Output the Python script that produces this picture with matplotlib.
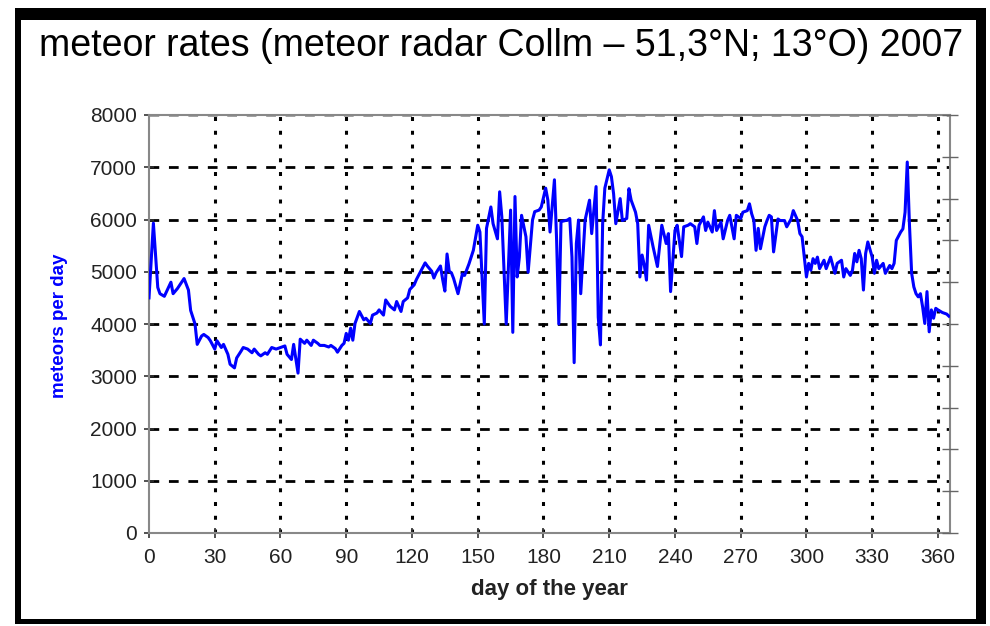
import numpy as np
import matplotlib
matplotlib.use("Agg")
import matplotlib.pyplot as plt
from matplotlib.patches import Rectangle

# daily meteor counts (day of year, meteors per day)
days = [0, 2, 4, 5, 7, 10, 11, 13, 16, 18, 19, 21, 22, 24, 25, 27, 28, 30, 31, 33,
        34, 36, 37, 39, 40, 42, 43, 45, 47, 48, 50, 51, 53, 54, 56, 58, 60, 62, 63, 65,
        66, 68, 69, 71, 72, 74, 75, 77, 78, 80, 82, 83, 85, 86, 88, 89, 90, 91, 92, 93,
        94, 96, 98, 99, 101, 102, 104, 105, 107, 108, 110, 112, 113, 115, 116, 118, 119, 121, 122, 124,
        126, 127, 129, 130, 131, 133, 134, 135, 136, 137, 138, 139, 141, 143, 144, 146, 148, 150, 151, 153,
        154, 156, 157, 159, 160, 161, 163, 164, 165, 166, 167, 168, 169, 170, 172, 173, 175, 176, 178, 179,
        181, 182, 183, 185, 186, 187, 188, 191, 192, 193, 194, 195, 196, 197, 199, 201, 202, 204, 205, 206,
        207, 208, 210, 211, 212, 213, 215, 216, 218, 219, 220, 222, 223, 224, 225, 226, 227, 228, 230, 232,
        234, 236, 237, 238, 240, 241, 243, 244, 246, 247, 249, 250, 251, 253, 254, 255, 257, 258, 259, 261,
        262, 264, 265, 267, 268, 270, 271, 273, 274, 275, 276, 277, 278, 279, 281, 282, 283, 284, 285, 287,
        288, 290, 291, 293, 294, 296, 297, 298, 299, 300, 301, 302, 303, 304, 305, 306, 308, 309, 311, 313,
        314, 316, 317, 318, 320, 321, 322, 323, 324, 325, 326, 327, 328, 330, 331, 332, 333, 335, 336, 338,
        339, 340, 341, 343, 344, 345, 346, 347, 348, 349, 350, 351, 352, 353, 354, 355, 356, 357, 358, 359,
        360, 362, 364, 365]
meteors = [4500, 5930, 4700, 4580, 4530, 4800, 4580, 4680, 4870, 4650, 4260, 4000, 3610, 3770, 3800, 3740, 3680, 3520, 3680, 3550,
           3610, 3420, 3230, 3160, 3350, 3480, 3550, 3520, 3450, 3520, 3420, 3390, 3450, 3420, 3550, 3520, 3550, 3580, 3420, 3320,
           3610, 3060, 3710, 3630, 3690, 3590, 3690, 3630, 3590, 3590, 3560, 3590, 3530, 3460, 3590, 3630, 3820, 3690, 3920, 3690,
           4010, 4240, 4080, 4110, 4010, 4170, 4210, 4270, 4170, 4460, 4340, 4270, 4430, 4240, 4430, 4500, 4660, 4750, 4850, 5010,
           5170, 5110, 5010, 4880, 4980, 5110, 4850, 4630, 5340, 5010, 4980, 4870, 4580, 4960, 4930, 5150, 5410, 5890, 5760, 4000,
           5830, 6240, 5920, 5630, 6530, 6050, 4000, 5090, 6180, 3840, 6440, 4900, 5280, 6080, 5670, 4990, 5990, 6150, 6180, 6240,
           6600, 6370, 5760, 6760, 5600, 4000, 5960, 5990, 6020, 5280, 3260, 5540, 5990, 4580, 5990, 6370, 5730, 6630, 4130, 3600,
           5920, 6600, 6950, 6820, 6490, 5920, 6400, 5980, 6020, 6590, 6370, 6140, 5920, 4900, 5320, 5130, 4840, 5890, 5480, 5100,
           5890, 5540, 5730, 4620, 5790, 5890, 5290, 5860, 5890, 5920, 5860, 5540, 5890, 6050, 5790, 5950, 5760, 6170, 5790, 5950,
           5630, 5980, 6080, 5630, 6080, 6020, 6140, 6170, 6300, 6110, 5980, 5410, 5830, 5440, 5860, 5980, 6080, 6050, 5380, 6010,
           5980, 5980, 5860, 6010, 6170, 5980, 5730, 5670, 5280, 4900, 5160, 5030, 5250, 5160, 5280, 5060, 5220, 5060, 5280, 4970,
           5160, 5220, 4900, 5060, 4930, 5030, 5350, 5190, 5410, 5250, 4650, 5350, 5570, 5280, 4970, 5220, 5060, 5160, 4970, 5120,
           5060, 5160, 5600, 5760, 5820, 6140, 7100, 5900, 4970, 4710, 4580, 4520, 4580, 4330, 4010, 4620, 3850, 4270, 4110, 4300,
           4270, 4220, 4190, 4150]

x_ticks = list(range(0, 361, 30))
y_ticks = list(range(0, 8001, 1000))

W, H = 990, 626
fig = plt.figure(figsize=(W / 100, H / 100), dpi=100)
fig.patch.set_facecolor("white")
font = ["Liberation Sans", "DejaVu Sans"]

ax = fig.add_axes([149 / W, 1 - 533 / H, 801 / W, 418 / H])
ax.set_xlim(0, 365.5)
ax.set_ylim(0, 8000)

# grid: dotted verticals, dashed horizontals
for x in x_ticks[1:]:
    ax.axvline(x, color="black", lw=2.2, ls=(0, (1.3, 3.2)), zorder=1)
for y in y_ticks[1:-1]:
    ax.axhline(y, color="black", lw=2.0, ls=(0, (3.5, 3.5)), zorder=1)
ax.axhline(8000, color="#999999", lw=2.0, ls=(0, (3.5, 3.5)), zorder=1)

ax.plot(days, meteors, color="#0000ff", lw=2.2, zorder=3)

for side in ["left", "bottom", "right", "top"]:
    ax.spines[side].set_color("#888888")
    ax.spines[side].set_linewidth(1.5)

ax.set_xticks(x_ticks)
ax.set_yticks(y_ticks)
ax.tick_params(axis="both", direction="inout", length=7, width=1.2, color="#333333",
               labelcolor="#222222", labelsize=15)
ax.tick_params(axis="y", pad=5)
ax.tick_params(axis="x", pad=7)
for lab in ax.get_xticklabels() + ax.get_yticklabels():
    lab.set_family(font)

ax2 = ax.twinx()
ax2.set_ylim(0, 10)
ax2.set_yticks(range(11))
ax2.set_yticklabels([])
ax2.tick_params(axis="y", direction="inout", length=12, width=1.0, color="#666666")
for side in ["left", "bottom", "right", "top"]:
    ax2.spines[side].set_visible(False)

fig.text(0.506, 0.926, "meteor rates (meteor radar Collm \u2013 51,3\u00b0N; 13\u00b0O) 2007",
         ha="center", va="center", fontsize=27, family=font, color="black")
fig.text(549 / W, 1 - 590 / H, "day of the year", ha="center", va="center",
         fontsize=16, fontweight="bold", family=font, color="#222222")
fig.text(60 / W, 1 - 326 / H, "meteors per day", ha="center", va="center", rotation=90,
         fontsize=13.5, fontweight="bold", family=font, color="#0000ff")

# black frame around the picture
def band(x0, y0, x1, y1):
    fig.add_artist(Rectangle((x0 / W, 1 - y1 / H), (x1 - x0) / W, (y1 - y0) / H,
                             transform=fig.transFigure, color="black", lw=0))

band(15, 8, 986, 20)
band(15, 8, 21, 624)
band(976, 8, 986, 624)
band(15, 619, 986, 624)

fig.savefig("out.png", dpi=100)
